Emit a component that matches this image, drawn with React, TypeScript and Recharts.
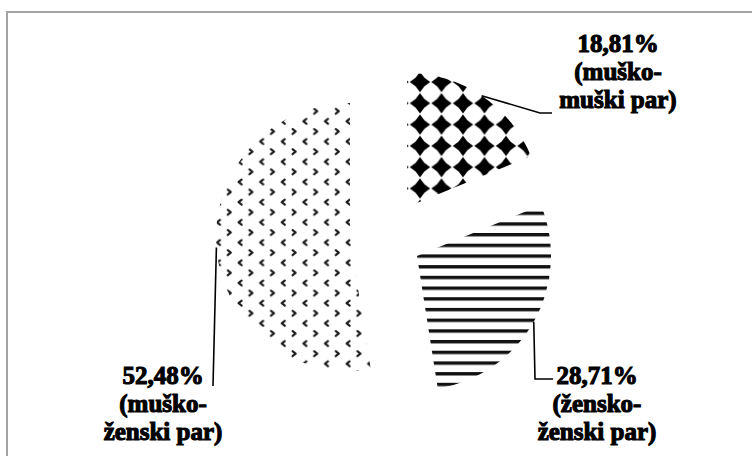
import { Cell, Pie, PieChart } from "recharts";

const CATEGORIES = ["muško-muški par", "žensko-ženski par", "muško-ženski par"];
const SHARES = [18.81, 28.71, 52.48];
const FILLS = ["url(#diamonds)", "url(#stripes)", "url(#chevrons)"];

// exploded pie: each slice gets its own centre, plus where its label sits (page px)
const SLICE_LAYOUT = [
  { cx: 407, cy: 207, bend: [540, 113], tail: [552, 113], tx: 618, ty: 52 },
  { cx: 417, cy: 256, bend: [535, 379], tail: [553, 379], tx: 597, ty: 384 },
  { cx: 350, cy: 237, bend: [213, 386], tail: null, tx: 163, ty: 384 },
];

const RADIUS = 134;
const LINE_GAP = 28;
const FONT = "'Liberation Serif', 'Times New Roman', serif";
const RAD = Math.PI / 180;

const data = CATEGORIES.map((name, i) => ({ name, value: SHARES[i] }));

function labelFor(owner: number) {
  return (props: any) => {
    const idx =
      props.index ?? CATEGORIES.indexOf(props.name ?? props.payload?.name);
    if (idx !== owner) return null;
    const { cx, cy, midAngle, outerRadius } = props;
    const sx = cx + outerRadius * Math.cos(-midAngle * RAD);
    const sy = cy + outerRadius * Math.sin(-midAngle * RAD);
    const lay = SLICE_LAYOUT[owner];
    const pts = [[sx, sy], lay.bend];
    if (lay.tail) pts.push(lay.tail);
    const [a, b] = CATEGORIES[owner].split("-");
    const lines = [
      SHARES[owner].toFixed(2).replace(".", ",") + "%",
      "(" + a + "-",
      b + ")",
    ];
    return (
      <g>
        <polyline
          points={pts.map((p) => p.join(",")).join(" ")}
          fill="none"
          stroke="#000"
          strokeWidth={1.6}
        />
        <text
          x={lay.tx}
          y={lay.ty}
          textAnchor="middle"
          fill="#000"
          stroke="#000"
          strokeWidth={1.1}
          style={{ fontFamily: FONT, fontWeight: 700, fontSize: 25 }}
        >
          {lines.map((t, i) => (
            <tspan key={i} x={lay.tx} y={lay.ty + i * LINE_GAP}>
              {t}
            </tspan>
          ))}
        </text>
      </g>
    );
  };
}

function Patterns() {
  return (
    <svg width={0} height={0} style={{ position: "absolute" }}>
      <defs>
        <pattern
          id="diamonds"
          patternUnits="userSpaceOnUse"
          width={21.5}
          height={21.3}
          x={420 - 10.75}
          y={82 - 10.65}
        >
          <rect width={21.5} height={21.3} fill="#fff" />
          <polygon
            points="10.75,0.6 15.1,6.3 20.9,10.65 15.1,15.0 10.75,20.7 6.4,15.0 0.6,10.65 6.4,6.3"
            fill="#000"
          />
        </pattern>
        <pattern
          id="stripes"
          patternUnits="userSpaceOnUse"
          width={10}
          height={10.7}
          x={0}
          y={213.3 - 1.7}
        >
          <rect width={10} height={10.7} fill="#fff" />
          <rect width={10} height={3.4} fill="#111" />
        </pattern>
        <pattern
          id="chevrons"
          patternUnits="userSpaceOnUse"
          width={21.6}
          height={20.2}
          x={348 - 5}
          y={283 - 5}
        >
          <rect width={21.6} height={20.2} fill="#fff" />
          <polyline
            points="6.6,2.6 3.6,5 6.6,7.4"
            fill="none"
            stroke="#1a1a1a"
            strokeWidth={2.2}
            strokeLinecap="round"
            strokeLinejoin="round"
          />
          <polyline
            points="14.4,12.7 17.4,15.1 14.4,17.5"
            fill="none"
            stroke="#1a1a1a"
            strokeWidth={2.2}
            strokeLinecap="round"
            strokeLinejoin="round"
          />
        </pattern>
      </defs>
    </svg>
  );
}

export default function App() {
  return (
    <div
      style={{
        position: "absolute",
        left: 0,
        top: 0,
        width: 752,
        height: 456,
        background: "#fff",
        overflow: "hidden",
      }}
    >
      <Patterns />
      <div
        style={{
          position: "absolute",
          left: 6,
          top: 11,
          width: 746,
          height: 445,
          borderLeft: "2px solid #a3a3a3",
          borderTop: "2px solid #a3a3a3",
        }}
      />
      <div style={{ position: "absolute", left: 0, top: 0 }}>
        <PieChart width={752} height={456} margin={{ top: 0, right: 0, bottom: 0, left: 0 }}>
          {SLICE_LAYOUT.map((lay, owner) => (
            <Pie
              key={owner}
              data={data}
              dataKey="value"
              nameKey="name"
              cx={lay.cx}
              cy={lay.cy}
              outerRadius={RADIUS}
              startAngle={90}
              endAngle={-270}
              stroke="none"
              labelLine={false}
              label={labelFor(owner)}
              isAnimationActive={false}
            >
              {data.map((_, i) => (
                <Cell key={i} fill={i === owner ? FILLS[i] : "transparent"} />
              ))}
            </Pie>
          ))}
        </PieChart>
      </div>
    </div>
  );
}
